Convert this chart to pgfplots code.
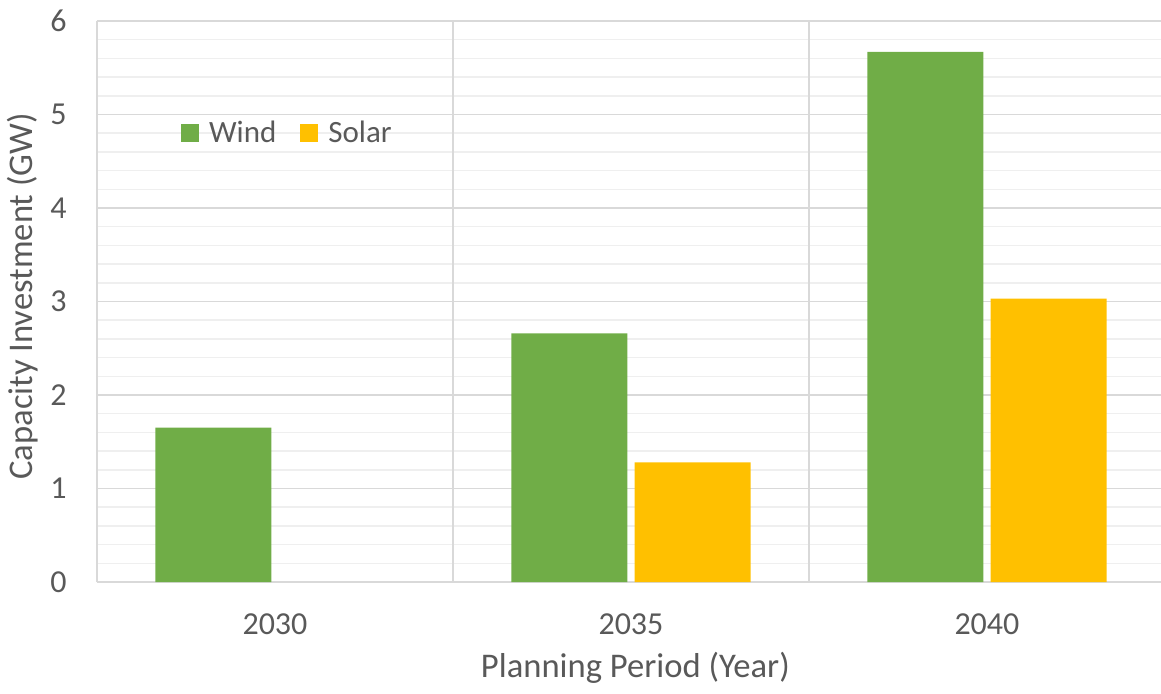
\documentclass[border=0pt]{standalone}
\usepackage{fontspec}
\setmainfont{Carlito}
\usepackage{pgfplots}
\pgfplotsset{compat=1.18}
\definecolor{windc}{HTML}{70AD47}
\definecolor{solarc}{HTML}{FFC000}
\definecolor{txt}{HTML}{595959}
\definecolor{gmaj}{HTML}{D9D9D9}
\definecolor{gmin}{HTML}{EFEFEF}
\begin{document}
\begin{tikzpicture}
\begin{axis}[
  at={(0,0)}, anchor=south west,
  scale only axis,
  width=532pt, height=280.5pt,
  xmin=-0.5, xmax=2.489,
  ymin=0, ymax=6,
  xtick={0,1,2},
  xticklabels={2030,2035,2040},
  ytick={0,1,2,3,4,5,6},
  minor y tick num=4,
  ymajorgrids, yminorgrids,
  major grid style={gmaj, line width=0.9pt},
  minor grid style={gmin, line width=0.75pt},
  extra x ticks={-0.5,0.5,1.5},
  extra x tick labels={},
  extra x tick style={xmajorgrids=true, major tick length=0pt},
  major tick length=0pt, minor tick length=0pt,
  axis line style={draw=none},
  /pgf/number format/assume math mode=true,
  tick label style={font=\fontsize{16}{19}\selectfont, text=txt},
  xticklabel style={anchor=north, inner sep=0pt, yshift=-15.5pt},
  yticklabel style={anchor=east, inner sep=0pt, xshift=-15pt},
  xlabel={Planning Period (Year)},
  ylabel={Capacity Investment (GW)},
  label style={font=\fontsize{17.3}{20}\selectfont, text=txt},
  xlabel style={at={(axis description cs:0.506,0)}, anchor=center, yshift=-43pt},
  ylabel style={at={(axis description cs:-0.0695,0.509)}, anchor=center},
  legend style={draw=none, fill=none, at={(axis description cs:0.073,0.80)}, anchor=west,
    font=\fontsize{15.5}{18}\selectfont, text=txt, legend columns=2,
    /tikz/every odd column/.append style={column sep=3pt},
    /tikz/every even column/.append style={column sep=10pt}},
  legend image code/.code={\fill[#1] (0pt,-4.5pt) rectangle (9pt,4.5pt);},
  bar width=0.326,
]
\addplot[ybar, fill=windc, draw=none, bar shift=-0.173] coordinates {(0,1.65) (1,2.66) (2,5.67)};
\addlegendentry{Wind}
\addplot[ybar, fill=solarc, draw=none, bar shift=0.173] coordinates {(1,1.28) (2,3.03)};
\addlegendentry{Solar}
\end{axis}
\pgfresetboundingbox
\path (-48.5pt,-55.5pt) rectangle (532pt,291pt);
\end{tikzpicture}
\end{document}
